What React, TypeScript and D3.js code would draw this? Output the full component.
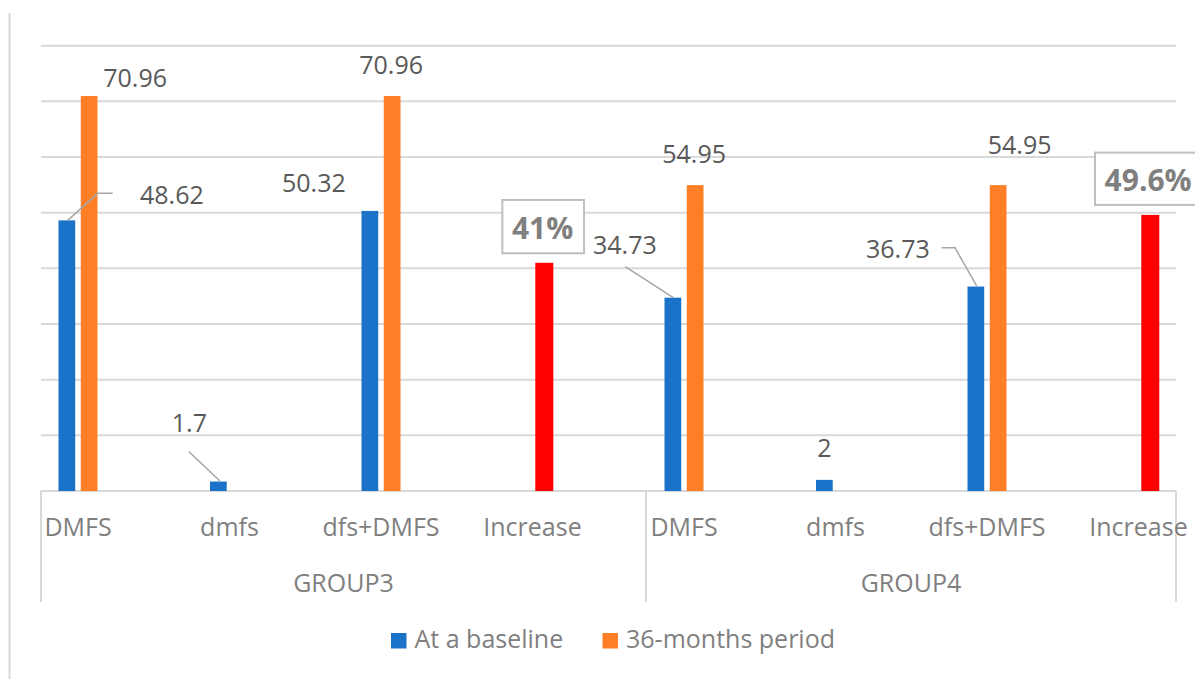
import * as d3 from "d3";

const width = 1195;
const height = 679;

// chart data
const groups = ["GROUP3", "GROUP4"];
const subCategories = ["DMFS", "dmfs", "dfs+DMFS", "Increase"];
const seriesNames = ["At a baseline", "36-months period"];
const baselineValues = [48.62, 1.7, 50.32, null, 34.73, 2, 36.73, null];
const periodValues = [70.96, null, 70.96, 41, 54.95, null, 54.95, 49.6];
const yTicks = [0, 10, 20, 30, 40, 50, 60, 70, 80];

const colors = { base: "#1a73c8", period: "#ff7f27", increase: "#ff0000" };
const grid = "#d9d9d9";
const font = "'Open Sans', 'DejaVu Sans', sans-serif";

// manual label placement (Excel labels were dragged around)
const baseLabelPos = [
  { dx: 105, dy: -16, leader: [[0.8, 0], [30.8, -27], [45.8, -27]] },
  { dx: -29, dy: -49.5, leader: [[-29.4, -29.8], [1.6, -0.5]] },
  { dx: -56, dy: -19 },
  null,
  { dx: -48, dy: -44, leader: [[-47.6, -31], [0.4, 0]] },
  { dx: 0, dy: -23 },
  { dx: -78, dy: -29, leader: [[-34.2, -38.9], [-20.9, -38.9], [0.8, -0.6]] },
  null,
];
const periodLabelPos = [
  { dx: 46, dy: -9 },
  null,
  { dx: -1, dy: -22 },
  { dx: -1, dy: -24, box: [-41.3, -62.8, 81.7, 53.3] },
  { dx: -1, dy: -22 },
  null,
  { dx: 21.5, dy: -31 },
  { dx: -1.5, dy: -24, box: [-54.6, -62.3, 102, 52.3] },
];

const App = () => {
  const keys = groups.flatMap((g) => subCategories.map((c) => `${g}|${c}`));

  const x = d3.scaleBand<string>().domain(keys).range([2.25, 1214.25]);
  const xSeries = d3
    .scaleBand<number>()
    .domain([0, 1])
    .range([-19.5, 19.5])
    .paddingInner(0.25);
  const y = d3.scaleLinear().domain([0, 80]).range([491, 45.7]);

  const plotLeft = 41;
  const plotRight = 1176;
  const groupSplit = 646;
  const axisBottom = 602;

  const center = (i: number) => (x(keys[i]) ?? 0) + x.bandwidth() / 2;
  const line = d3.line();

  const fmt = (v: number, isInc: boolean) => (isInc ? `${v}%` : `${v}`);

  return (
    <svg
      width={width}
      height={height}
      style={{ position: "absolute", left: 0, top: 0, fontFamily: font }}
    >
      <rect width={width} height={height} fill="#fff" />
      <line x1={9.5} x2={9.5} y1={13} y2={height} stroke={grid} strokeWidth={2} />

      {/* gridlines */}
      {yTicks.map((t) => (
        <line
          key={t}
          x1={plotLeft}
          x2={plotRight}
          y1={y(t)}
          y2={y(t)}
          stroke={grid}
          strokeWidth={2}
        />
      ))}

      {/* category axis tick lines */}
      {[plotLeft, groupSplit, plotRight].map((xx) => (
        <line key={xx} x1={xx} x2={xx} y1={y(0)} y2={axisBottom} stroke={grid} strokeWidth={2} />
      ))}

      {/* bars */}
      {keys.map((k, i) => {
        const c = center(i);
        const isInc = k.endsWith("Increase");
        const b = baselineValues[i];
        const p = periodValues[i];
        return (
          <g key={k}>
            {b != null && (
              <rect
                x={c + (xSeries(0) ?? 0)}
                y={y(b)}
                width={xSeries.bandwidth()}
                height={y(0) - y(b)}
                fill={colors.base}
              />
            )}
            {p != null && (
              <rect
                x={c + (xSeries(1) ?? 0)}
                y={y(p)}
                width={xSeries.bandwidth() + (isInc ? 1.3 : 0)}
                height={y(0) - y(p)}
                fill={isInc ? colors.increase : colors.period}
              />
            )}
          </g>
        );
      })}

      {/* data labels */}
      {keys.map((k, i) => {
        const isInc = k.endsWith("Increase");
        const out = [];
        const b = baselineValues[i];
        const p = periodValues[i];
        const bp = baseLabelPos[i];
        const pp = periodLabelPos[i];
        if (b != null && bp) {
          const bx = center(i) + (xSeries(0) ?? 0) + xSeries.bandwidth() / 2;
          const by = y(b);
          if (bp.leader)
            out.push(
              <path
                key="bl"
                d={line(bp.leader.map(([a, c]) => [bx + a, by + c]) as [number, number][]) ?? ""}
                fill="none"
                stroke="#a6a6a6"
                strokeWidth={1.5}
              />
            );
          out.push(
            <text key="bt" x={bx + bp.dx} y={by + bp.dy} textAnchor="middle" fontSize={25} fill="#595959">
              {fmt(b, false)}
            </text>
          );
        }
        if (p != null && pp) {
          const px = center(i) + (xSeries(1) ?? 0) + xSeries.bandwidth() / 2;
          const py = y(p);
          if (pp.box)
            out.push(
              <rect
                key="pb"
                x={px + pp.box[0]}
                y={py + pp.box[1]}
                width={pp.box[2]}
                height={pp.box[3]}
                fill="#fff"
                stroke="#bfbfbf"
                strokeWidth={2}
              />
            );
          out.push(
            <text
              key="pt"
              x={px + pp.dx}
              y={py + pp.dy}
              textAnchor="middle"
              fontSize={isInc ? 30 : 25}
              fontWeight={isInc ? "bold" : "normal"}
              fill={isInc ? "#7f7f7f" : "#595959"}
            >
              {fmt(p, isInc)}
            </text>
          );
        }
        return <g key={k}>{out}</g>;
      })}

      {/* category labels */}
      {keys.map((k, i) => (
        <text key={k} x={center(i)} y={536} textAnchor="middle" fontSize={25} fill="#7f7f7f">
          {k.split("|")[1]}
        </text>
      ))}
      {groups.map((g, gi) => {
        const l = gi === 0 ? plotLeft : groupSplit;
        const r = gi === 0 ? groupSplit : plotRight;
        return (
          <text key={g} x={(l + r) / 2} y={592} textAnchor="middle" fontSize={25} fill="#7f7f7f">
            {g}
          </text>
        );
      })}

      {/* legend */}
      {seriesNames.map((s, i) => {
        const lx = i === 0 ? 391 : 602.5;
        return (
          <g key={s}>
            <rect x={lx} y={633} width={15.5} height={15.5} fill={i === 0 ? colors.base : colors.period} />
            <text x={lx + 23.5} y={648} fontSize={25} fill="#7f7f7f">
              {s}
            </text>
          </g>
        );
      })}
    </svg>
  );
};

export default App;
